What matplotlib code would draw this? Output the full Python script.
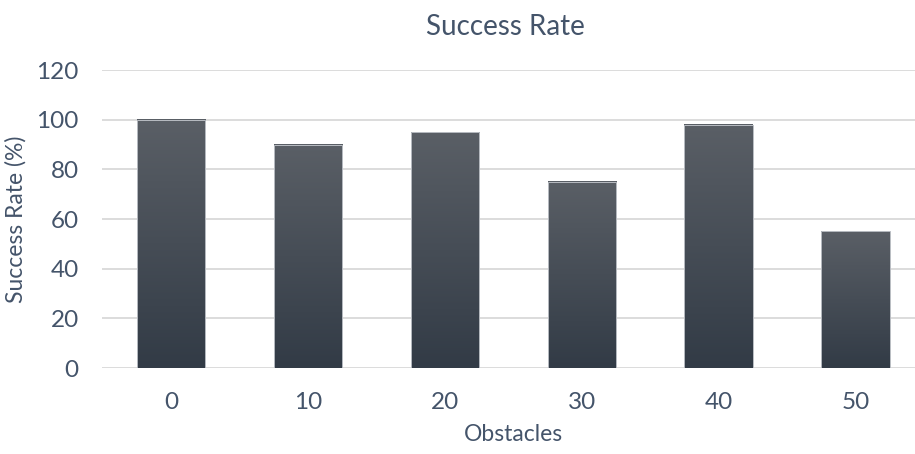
import numpy as np
import matplotlib.pyplot as plt
from matplotlib.colors import LinearSegmentedColormap

obstacles = ["0", "10", "20", "30", "40", "50"]
success = [100, 90, 95, 75, 98, 55]

plt.rcParams['font.family'] = ['Lato', 'DejaVu Sans']
txt = "#44546a"

fig = plt.figure(figsize=(9.15, 4.54), dpi=100)
# category axis runs a little past the right edge, like the original
ax = fig.add_axes([0.112, 0.1894, 0.898, 0.6564])

x = np.arange(len(obstacles))
w = 0.5
cmap = LinearSegmentedColormap.from_list("bar", ["#323b46", "#5a5f66"])
grad = np.linspace(1, 0, 256).reshape(-1, 1)
for xi, v in zip(x, success):
    ax.imshow(grad, cmap=cmap, vmin=0, vmax=1, aspect='auto',
              extent=(xi - w / 2, xi + w / 2, 0, v), zorder=2)
    ax.bar(xi, v, w, color='none', edgecolor='#b8bcc2', lw=0.7, zorder=3)

ax.set_xlim(-0.5, len(obstacles) - 0.5)
ax.set_ylim(0, 120)
ax.set_yticks(range(0, 121, 20))
ax.set_xticks(x)
ax.set_xticklabels(obstacles)
ax.grid(axis='y', color='#d9d9d9', lw=1.3, zorder=0)
ax.set_axisbelow(True)
for s in ax.spines.values():
    s.set_visible(False)
ax.tick_params(length=0, labelsize=17.5, labelcolor=txt)
ax.tick_params(axis='y', pad=17)
ax.tick_params(axis='x', pad=17)
ax.set_xlabel("Obstacles", fontsize=16.5, color=txt, labelpad=8)
ax.set_ylabel("Success Rate (%)", fontsize=16.5, color=txt, labelpad=7)
ax.set_title("Success Rate", fontsize=20, color=txt, pad=25, x=0.49)

fig.savefig("out.png", dpi=100)
